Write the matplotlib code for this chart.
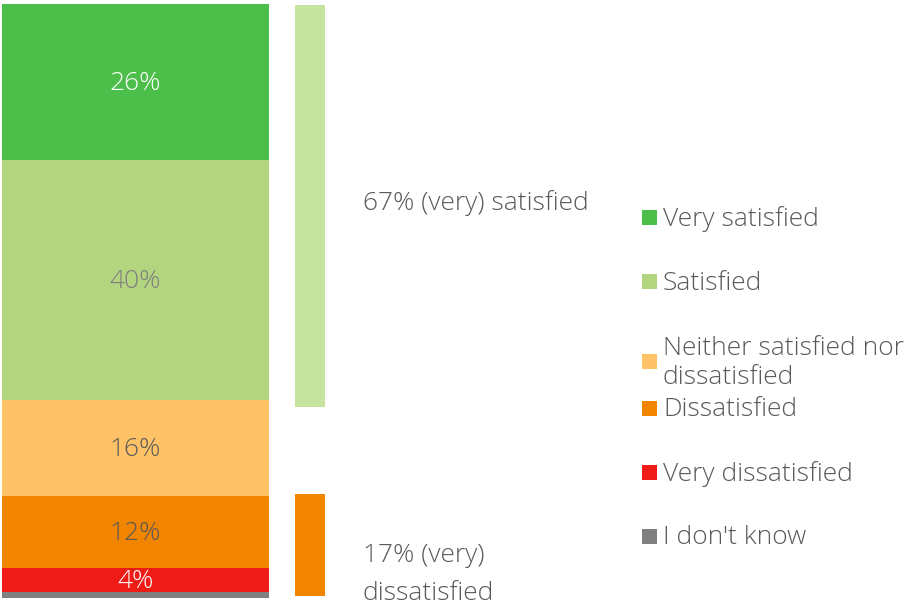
import matplotlib.pyplot as plt
from matplotlib.patches import Rectangle

plt.rcParams['font.family'] = ['Open Sans', 'DejaVu Sans']

categories = ['Very satisfied', 'Satisfied', 'Neither satisfied nor\ndissatisfied',
              'Dissatisfied', 'Very dissatisfied', "I don't know"]
values = [26, 40, 16, 12, 4, 1]
labels = ['26%', '40%', '16%', '12%', '4%', '']
colors = ['#4bbf4a', '#b3d580', '#ffc266', '#f28500', '#ee1b16', '#808080']
label_colors = ['white', '#7f7f7f', '#595959', '#595959', 'white', 'white']

summary_values = [67, 17]
summary_labels = ['67% (very) satisfied', '17% (very)\ndissatisfied']
summary_colors = ['#c6e3a0', '#f28500']

W, H = 907, 606
fig = plt.figure(figsize=(W / 100, H / 100), dpi=100)
ax = fig.add_axes([0, 0, 1, 1])
px = 267.0  # pixels per x unit
ax.set_xlim(-0.5 - 2 / px, -0.5 - 2 / px + W / px)
ax.set_ylim(-8.5 / 6, 597.5 / 6)
ax.axis('off')

fs = 19

# main stacked bar, drawn from the bottom up
bottom = 0
for v, c, lab, lc in reversed(list(zip(values, colors, labels, label_colors))):
    ax.bar(0, v, width=1, bottom=bottom, color=c, linewidth=0)
    if lab:
        ax.text(0, bottom + v / 2 - 0.3, lab, ha='center', va='center', fontsize=fs,
                color=lc, fontweight='light')
    bottom += v
total = bottom

# summary bars
x2 = (310 - 135.5) / px
w2 = 30 / px
ax.bar(x2, summary_values[0], width=w2, bottom=total - summary_values[0] - 0.3,
       color=summary_colors[0], linewidth=0)
ax.bar(x2, summary_values[1], width=w2, bottom=0.3, color=summary_colors[1], linewidth=0)

ax.text((363 - 135.5) / px, total - summary_values[0] / 2 + 0.3, summary_labels[0],
        ha='left', va='center', fontsize=fs, color='#595959', fontweight='light')
ax.text((363 - 135.5) / px, 3.9, summary_labels[1],
        ha='left', va='center', fontsize=fs, color='#595959', linespacing=1.68,
        fontweight='light')

# legend
leg_y = [217, 281, 361, 408, 472, 536]
for cat, c, y in zip(categories, colors, leg_y):
    fig.patches.append(Rectangle((642 / W, 1 - (y + 7.5) / H), 15 / W, 15 / H,
                                 transform=fig.transFigure, color=c, linewidth=0))
    fig.text(663 / W, 1 - (y + 2) / H, cat, ha='left', va='center', fontsize=fs,
             color='#595959', linespacing=1.2, fontweight='light')

fig.savefig('out.png', dpi=100)
